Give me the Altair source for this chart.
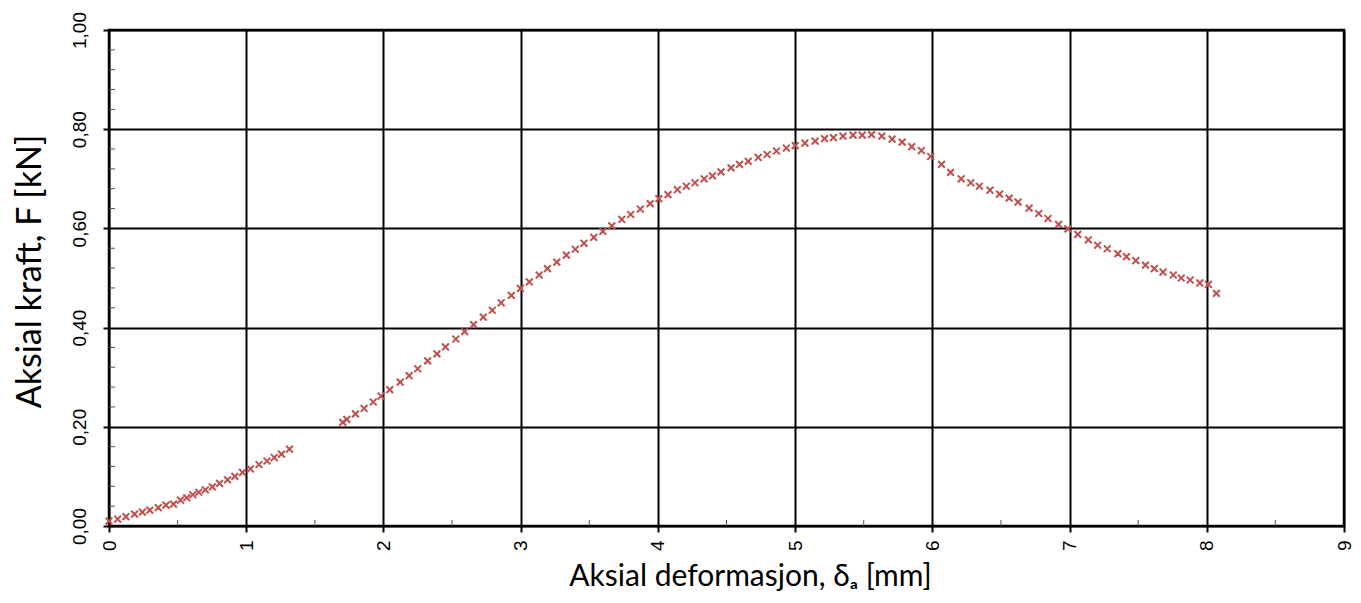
import altair as alt
import pandas as pd

# Aksial deformasjon (mm) and Aksial kraft (kN)
deform = [0.00, 0.063, 0.123, 0.186, 0.243, 0.297, 0.359, 0.415, 0.47, 0.521,
          0.567, 0.611, 0.654, 0.702, 0.753, 0.806, 0.864, 0.917, 0.973, 1.031,
          1.093, 1.151, 1.204, 1.257, 1.315,
          1.704, 1.733, 1.796, 1.859, 1.926, 1.983, 2.046, 2.122, 2.187, 2.250,
          2.322, 2.390, 2.452, 2.527, 2.592, 2.657, 2.728, 2.793, 2.858, 2.932,
          2.998, 3.063, 3.135, 3.195, 3.263, 3.333, 3.398, 3.461, 3.533, 3.599,
          3.664, 3.737, 3.802, 3.872, 3.944, 4.007, 4.074, 4.142, 4.207, 4.270,
          4.337, 4.398, 4.460, 4.533, 4.595, 4.658, 4.731, 4.796, 4.864, 4.936,
          5.001, 5.071, 5.146, 5.214, 5.279, 5.349, 5.422, 5.489, 5.557, 5.632,
          5.707, 5.780, 5.850, 5.920, 5.988, 6.067, 6.133, 6.210, 6.280, 6.343,
          6.420, 6.490, 6.560, 6.625, 6.705, 6.775, 6.843, 6.920, 6.988, 7.060,
          7.137, 7.205, 7.275, 7.352, 7.415, 7.483, 7.553, 7.618, 7.681, 7.756,
          7.814, 7.879, 7.949, 8.012, 8.070]
kraft = [0.010, 0.014, 0.019, 0.024, 0.028, 0.032, 0.037, 0.042, 0.044, 0.052,
         0.057, 0.063, 0.068, 0.073, 0.079, 0.086, 0.093, 0.100, 0.108, 0.115,
         0.124, 0.131, 0.138, 0.145, 0.155,
         0.209, 0.215, 0.226, 0.237, 0.250, 0.262, 0.275, 0.290, 0.303, 0.317,
         0.333, 0.347, 0.361, 0.377, 0.392, 0.406, 0.421, 0.435, 0.450, 0.465,
         0.479, 0.492, 0.506, 0.519, 0.532, 0.546, 0.558, 0.570, 0.582, 0.594,
         0.605, 0.618, 0.628, 0.639, 0.650, 0.660, 0.668, 0.678, 0.685, 0.692,
         0.700, 0.706, 0.714, 0.722, 0.729, 0.735, 0.743, 0.749, 0.756, 0.762,
         0.767, 0.772, 0.776, 0.781, 0.783, 0.786, 0.788, 0.788, 0.789, 0.786,
         0.780, 0.774, 0.765, 0.757, 0.745, 0.729, 0.713, 0.700, 0.692, 0.685,
         0.677, 0.669, 0.661, 0.653, 0.641, 0.630, 0.620, 0.608, 0.599, 0.588,
         0.577, 0.566, 0.559, 0.549, 0.543, 0.535, 0.526, 0.519, 0.512, 0.506,
         0.500, 0.496, 0.490, 0.487, 0.469]

x_ticks = [0, 1, 2, 3, 4, 5, 6, 7, 8, 9]
y_ticks = [0.0, 0.2, 0.4, 0.6, 0.8, 1.0]
x_minor = [0.5, 1.5, 2.5, 3.5, 4.5, 5.5, 6.5, 7.5, 8.5]
y_minor = [0.04, 0.08, 0.12, 0.16, 0.24, 0.28, 0.32, 0.36, 0.44, 0.48, 0.52,
           0.56, 0.64, 0.68, 0.72, 0.76, 0.84, 0.88, 0.92, 0.96]

W, H = 1235, 496

df = pd.DataFrame({"d": deform, "F": kraft})
xm = pd.DataFrame({"v": x_minor})
ym = pd.DataFrame({"v": y_minor})

xscale = alt.Scale(domain=[0, 9], nice=False, zero=False)
yscale = alt.Scale(domain=[0, 1], nice=False, zero=False)

xaxis = alt.Axis(
    values=x_ticks, format="d", labelAngle=270, labelAlign="right",
    labelBaseline="middle", labelPadding=8, labelFont="Liberation Sans",
    labelFontSize=19, labelColor="black", tickSize=6, tickWidth=2,
    tickColor="black", grid=True, gridColor="black", gridWidth=2,
    gridOpacity=1, domain=False,
    title="Aksial deformasjon, δₐ [mm]", titleFont="Lato", titleFontSize=30,
    titleFontWeight="normal", titleColor="black", titleX=641, titleY=59,
    titleAlign="center", titleBaseline="alphabetic",
)
yaxis = alt.Axis(
    values=y_ticks, labelExpr="replace(format(datum.value, '.2f'), '.', ',')",
    labelAngle=270, labelAlign="center", labelBaseline="bottom",
    labelPadding=14, labelFont="Liberation Sans", labelFontSize=19,
    labelColor="black", tickSize=6, tickWidth=2, tickColor="black",
    grid=True, gridColor="black", gridWidth=2, gridOpacity=1, domain=False,
    title="Aksial kraft, F [kN]", titleFont="Lato", titleFontSize=34,
    titleFontWeight="normal", titleColor="black", titleAngle=270,
    titleX=-69, titleY=241, titleAlign="center", titleBaseline="alphabetic",
)

points = alt.Chart(df).mark_point(
    shape="M-1,-1L1,1M-1,1L1,-1", size=46, filled=False,
    stroke="#C0504D", strokeWidth=2, opacity=1,
).encode(
    x=alt.X("d:Q", scale=xscale, axis=xaxis),
    y=alt.Y("F:Q", scale=yscale, axis=yaxis),
)

xminor_marks = alt.Chart(xm).mark_rule(color="#555555", strokeWidth=1).encode(
    x=alt.X("v:Q", scale=xscale),
    y=alt.value(H),
    y2=alt.value(H - 6),
)
yminor_marks = alt.Chart(ym).mark_rule(color="#555555", strokeWidth=1).encode(
    y=alt.Y("v:Q", scale=yscale),
    x=alt.value(0),
    x2=alt.value(6),
)

chart = alt.layer(points, xminor_marks, yminor_marks).properties(
    width=W, height=H,
    autosize=alt.AutoSizeParams(type="none"),
    padding={"left": 101, "top": 22, "right": 9, "bottom": 65},
    background="white",
).configure_view(stroke="black", strokeWidth=2.5)

chart.save("out.html", embed_options={"renderer": "svg", "actions": False})
